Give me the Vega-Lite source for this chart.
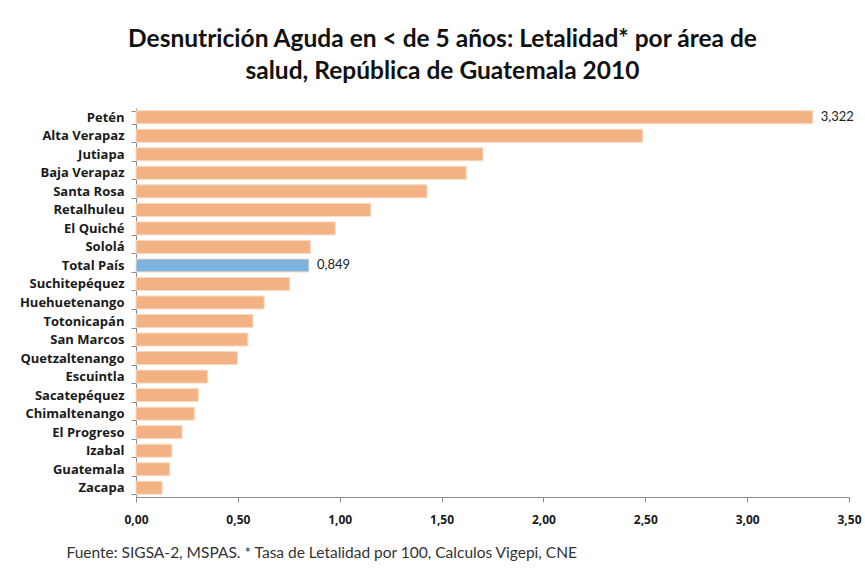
{
  "$schema": "https://vega.github.io/schema/vega-lite/v6.json",
  "autosize": {"type": "none"},
  "width": 713,
  "height": 389,
  "padding": {"left": 136, "top": 108, "right": 16, "bottom": 74},
  "background": "white",
  "config": {
    "locale": {"number": {"decimal": ",", "thousands": ".", "grouping": [3], "currency": ["", ""]}},
    "view": {"stroke": null},
    "font": "Lato"
  },
  "title": {
    "text": ["Desnutrición Aguda en < de 5 años: Letalidad* por área de", "salud, República de Guatemala 2010"],
    "anchor": "middle",
    "dx": -50,
    "fontSize": 24.5,
    "fontWeight": "bold",
    "font": "Lato",
    "color": "#111111",
    "lineHeight": 32,
    "offset": 18
  },
  "data": {
    "values": [
      {"area": "Petén", "letalidad": 3.322, "tipo": "area"},
      {"area": "Alta Verapaz", "letalidad": 2.487, "tipo": "area"},
      {"area": "Jutiapa", "letalidad": 1.703, "tipo": "area"},
      {"area": "Baja Verapaz", "letalidad": 1.621, "tipo": "area"},
      {"area": "Santa Rosa", "letalidad": 1.429, "tipo": "area"},
      {"area": "Retalhuleu", "letalidad": 1.152, "tipo": "area"},
      {"area": "El Quiché", "letalidad": 0.978, "tipo": "area"},
      {"area": "Sololá", "letalidad": 0.857, "tipo": "area"},
      {"area": "Total País", "letalidad": 0.849, "tipo": "total"},
      {"area": "Suchitepéquez", "letalidad": 0.754, "tipo": "area"},
      {"area": "Huehuetenango", "letalidad": 0.629, "tipo": "area"},
      {"area": "Totonicapán", "letalidad": 0.574, "tipo": "area"},
      {"area": "San Marcos", "letalidad": 0.549, "tipo": "area"},
      {"area": "Quetzaltenango", "letalidad": 0.498, "tipo": "area"},
      {"area": "Escuintla", "letalidad": 0.352, "tipo": "area"},
      {"area": "Sacatepéquez", "letalidad": 0.306, "tipo": "area"},
      {"area": "Chimaltenango", "letalidad": 0.286, "tipo": "area"},
      {"area": "El Progreso", "letalidad": 0.226, "tipo": "area"},
      {"area": "Izabal", "letalidad": 0.176, "tipo": "area"},
      {"area": "Guatemala", "letalidad": 0.165, "tipo": "area"},
      {"area": "Zacapa", "letalidad": 0.128, "tipo": "area"}
    ]
  },
  "encoding": {
    "y": {
      "field": "area",
      "type": "nominal",
      "sort": null,
      "scale": {"paddingInner": 0.3, "paddingOuter": 0.15},
      "axis": {
        "title": null,
        "tickBand": "extent",
        "domainColor": "#8c8c8c",
        "tickColor": "#8c8c8c",
        "tickSize": 5,
        "labelPadding": 7,
        "labelFont": "Open Sans",
        "labelFontSize": 13,
        "labelFontWeight": "bold",
        "labelColor": "#1a1a1a"
      }
    },
    "x": {
      "field": "letalidad",
      "type": "quantitative",
      "scale": {"domain": [0, 3.5], "nice": false},
      "axis": {
        "values": [0, 0.5, 1, 1.5, 2, 2.5, 3, 3.5],
        "format": ".2f",
        "grid": false,
        "domainColor": "#8c8c8c",
        "tickColor": "#8c8c8c",
        "tickSize": 5,
        "labelPadding": 12,
        "labelFont": "Open Sans",
        "labelFontSize": 12,
        "labelFontWeight": "bold",
        "labelColor": "#1a1a1a",
        "labelFlush": false,
        "title": "Fuente:  SIGSA-2, MSPAS. * Tasa de Letalidad por 100,  Calculos Vigepi, CNE",
        "titleAnchor": "start",
        "titleX": -70,
        "titleFont": "Lato",
        "titleFontSize": 15.5,
        "titleFontWeight": "normal",
        "titleColor": "#333333",
        "titlePadding": 20
      }
    }
  },
  "layer": [
    {
      "mark": {"type": "bar", "stroke": "#fbd9c0", "strokeWidth": 1},
      "encoding": {
        "color": {
          "field": "tipo",
          "type": "nominal",
          "scale": {"domain": ["area", "total"], "range": ["#f2b283", "#7db3e1"]},
          "legend": null
        }
      }
    },
    {
      "transform": [{"filter": "datum.area === 'Petén' || datum.area === 'Total País'"}],
      "mark": {"type": "text", "align": "left", "dx": 8, "font": "Lato", "fontSize": 13, "color": "#222222"},
      "encoding": {
        "text": {"field": "letalidad", "type": "quantitative", "format": ".3f"}
      }
    }
  ]
}
